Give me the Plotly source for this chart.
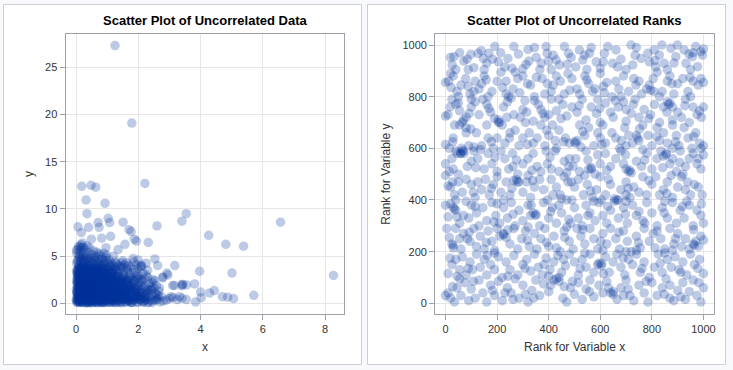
import plotly.graph_objects as go

# ---------------- data ----------------
# Left panel: scattered outliers (x, y)
data_outliers = [
    (1.25, 27.3), (1.79, 19.1), (2.21, 12.7), (0.18, 12.4), (0.48, 12.5), (0.63, 12.3),
    (0.32, 10.95), (0.93, 10.6), (0.35, 9.5), (1.03, 9.0), (1.08, 8.55), (1.51, 8.6),
    (0.71, 8.55), (3.54, 9.5), (3.40, 8.7), (2.60, 8.2), (6.57, 8.6), (4.26, 7.2),
    (4.81, 6.25), (5.38, 6.05), (5.01, 3.2), (8.27, 2.95), (5.71, 0.85), (3.97, 3.4),
    (3.17, 4.0), (0.06, 8.1), (0.40, 8.05), (0.74, 8.05), (0.17, 7.5), (0.82, 6.9),
    (1.11, 7.1), (1.70, 7.8), (1.77, 7.6), (1.87, 6.8), (1.94, 6.6), (2.32, 6.45),
    (1.57, 6.25), (1.35, 5.7), (0.49, 6.8), (0.96, 5.9), (0.01, 5.65), (2.53, 4.7),
    (2.62, 4.0), (2.92, 3.2), (2.79, 2.8), (3.81, 2.05), (4.0, 1.2), (4.44, 1.35),
    (4.29, 1.1), (4.70, 0.7), (4.87, 0.65), (5.06, 0.5), (3.84, 0.15), (4.02, 0.6),
    (3.43, 2.0), (3.16, 1.9), (2.90, 0.35), (3.11, 0.6), (3.32, 0.7), (3.54, 0.4),
    (2.57, 0.35), (2.25, 4.25), (1.99, 4.6), (1.83, 4.75), (2.09, 3.9), (2.47, 2.5),
    (2.68, 1.6), (2.41, 1.4), (2.25, 1.05),
]

# Left panel: dense cluster, by band of y
data_band_0_1 = [
    (0.02, 0.1), (0.05, 0.4), (0.08, 0.75), (0.1, 0.2), (0.12, 0.55), (0.15, 0.9), (0.18, 0.3),
    (0.2, 0.65), (0.23, 0.05), (0.26, 0.45), (0.3, 0.85), (0.33, 0.15), (0.37, 0.6), (0.4, 0.35),
    (0.44, 0.95), (0.48, 0.1), (0.52, 0.7), (0.55, 0.25), (0.6, 0.5), (0.64, 0.85), (0.68, 0.05),
    (0.72, 0.4), (0.77, 0.75), (0.82, 0.2), (0.87, 0.55), (0.92, 0.9), (0.98, 0.3), (1.04, 0.65),
    (1.1, 0.1), (1.16, 0.45), (1.23, 0.8), (1.3, 0.25), (1.38, 0.6), (1.45, 0.05), (1.53, 0.4),
    (1.62, 0.75), (1.7, 0.2), (1.8, 0.55), (1.9, 0.9), (2.0, 0.1), (2.12, 0.5), (2.25, 0.8),
    (2.4, 0.3), (2.55, 0.6), (2.7, 0.15),
    (0.03, 0.6), (0.07, 0.15), (0.11, 0.85), (0.14, 0.35), (0.19, 0.7), (0.22, 0.25), (0.28, 0.55),
    (0.32, 0.05), (0.35, 0.8), (0.42, 0.5), (0.46, 0.2), (0.5, 0.9), (0.57, 0.6), (0.62, 0.15),
    (0.66, 0.4), (0.7, 0.95), (0.75, 0.25), (0.8, 0.65), (0.85, 0.05), (0.9, 0.45), (0.95, 0.75),
    (1.0, 0.35), (1.07, 0.9), (1.13, 0.2), (1.2, 0.55), (1.27, 0.05), (1.34, 0.85), (1.42, 0.35),
    (1.5, 0.7), (1.58, 0.15), (1.66, 0.5), (1.75, 0.95), (1.85, 0.3), (1.95, 0.65), (2.05, 0.4),
    (2.18, 0.15), (2.32, 0.6), (2.48, 0.9), (2.62, 0.45), (2.8, 0.25), (3.0, 0.5), (3.05, 0.7),
    (3.25, 0.4), (3.4, 0.55),
    (0.01, 0.3), (0.04, 0.9), (0.09, 0.5), (0.13, 0.1), (0.17, 0.6), (0.21, 0.95), (0.25, 0.3),
    (0.29, 0.7), (0.34, 0.45), (0.38, 0.1), (0.43, 0.65), (0.47, 0.35), (0.53, 0.05), (0.58, 0.8),
    (0.63, 0.35), (0.69, 0.6), (0.74, 0.1), (0.79, 0.9), (0.84, 0.4), (0.89, 0.15), (0.94, 0.6),
    (1.01, 0.85), (1.08, 0.4), (1.15, 0.7), (1.22, 0.15), (1.29, 0.5), (1.36, 0.95), (1.44, 0.6),
    (1.55, 0.85), (1.65, 0.3), (1.78, 0.1), (1.88, 0.7), (2.08, 0.8), (2.22, 0.3), (2.45, 0.1),
    (2.6, 0.9), (2.75, 0.7),
]
data_band_1_2 = [
    (0.02, 1.2), (0.06, 1.6), (0.09, 1.9), (0.12, 1.35), (0.16, 1.75), (0.2, 1.1), (0.24, 1.5),
    (0.28, 1.85), (0.32, 1.25), (0.36, 1.65), (0.41, 1.05), (0.45, 1.45), (0.5, 1.8), (0.54, 1.3),
    (0.59, 1.7), (0.63, 1.15), (0.67, 1.55), (0.72, 1.95), (0.76, 1.35), (0.81, 1.75), (0.86, 1.1),
    (0.91, 1.5), (0.96, 1.9), (1.02, 1.25), (1.08, 1.65), (1.14, 1.05), (1.2, 1.45), (1.27, 1.85),
    (1.34, 1.3), (1.41, 1.7), (1.49, 1.1), (1.57, 1.5), (1.66, 1.9), (1.75, 1.2), (1.85, 1.6),
    (1.96, 1.0), (2.08, 1.4), (2.2, 1.8), (2.35, 1.2), (2.5, 1.6), (2.65, 1.3), (3.1, 1.9),
    (3.55, 1.95), (3.4, 1.85),
    (0.04, 1.0), (0.08, 1.4), (0.14, 1.8), (0.18, 1.2), (0.22, 1.65), (0.27, 1.05), (0.31, 1.5),
    (0.35, 1.95), (0.39, 1.4), (0.44, 1.8), (0.48, 1.15), (0.52, 1.6), (0.57, 1.0), (0.61, 1.45),
    (0.66, 1.85), (0.7, 1.25), (0.75, 1.7), (0.8, 1.05), (0.85, 1.55), (0.9, 1.95), (0.95, 1.3),
    (1.0, 1.75), (1.06, 1.15), (1.12, 1.6), (1.18, 1.95), (1.25, 1.35), (1.32, 1.75), (1.39, 1.15),
    (1.47, 1.6), (1.55, 1.0), (1.63, 1.4), (1.72, 1.8), (1.82, 1.3), (1.92, 1.7), (2.02, 1.2),
    (2.15, 1.6), (2.28, 1.0), (2.42, 1.45), (2.58, 1.9),
    (0.01, 1.5), (0.05, 1.85), (0.1, 1.15), (0.15, 1.55), (0.19, 1.95), (0.25, 1.3), (0.3, 1.7),
    (0.37, 1.2), (0.42, 1.6), (0.49, 1.4), (0.55, 1.9), (0.62, 1.6), (0.68, 1.05), (0.73, 1.45),
    (0.79, 1.85), (0.88, 1.35), (0.97, 1.6), (1.05, 1.95), (1.16, 1.3), (1.3, 1.55), (1.45, 1.9),
    (1.6, 1.25), (1.78, 1.5), (1.98, 1.85), (2.12, 1.1), (2.3, 1.5),
]
data_band_2_3 = [
    (0.02, 2.1), (0.06, 2.5), (0.1, 2.85), (0.13, 2.3), (0.17, 2.7), (0.21, 2.15), (0.25, 2.55),
    (0.29, 2.95), (0.34, 2.35), (0.38, 2.75), (0.43, 2.2), (0.47, 2.6), (0.52, 2.05), (0.56, 2.45),
    (0.61, 2.85), (0.65, 2.3), (0.7, 2.7), (0.75, 2.1), (0.8, 2.5), (0.85, 2.9), (0.9, 2.35),
    (0.96, 2.75), (1.02, 2.2), (1.08, 2.6), (1.15, 2.0), (1.22, 2.45), (1.3, 2.85), (1.38, 2.3),
    (1.46, 2.7), (1.55, 2.15), (1.64, 2.55), (1.74, 2.95), (1.84, 2.4), (1.95, 2.8), (2.06, 2.2),
    (2.2, 2.6), (2.36, 2.1), (2.52, 2.4), (2.78, 2.7), (2.95, 3.0), (3.4, 2.0),
    (0.04, 2.7), (0.08, 2.2), (0.12, 2.6), (0.16, 2.05), (0.2, 2.45), (0.24, 2.9), (0.28, 2.3),
    (0.33, 2.7), (0.37, 2.1), (0.42, 2.5), (0.46, 2.95), (0.51, 2.4), (0.55, 2.8), (0.6, 2.2),
    (0.64, 2.6), (0.69, 2.0), (0.74, 2.4), (0.79, 2.85), (0.84, 2.25), (0.89, 2.65), (0.95, 2.05),
    (1.01, 2.5), (1.1, 2.9), (1.18, 2.3), (1.26, 2.7), (1.35, 2.1), (1.44, 2.5), (1.52, 2.9),
    (1.62, 2.3), (1.72, 2.7), (1.82, 2.1), (1.92, 2.5), (2.02, 2.9), (2.14, 2.35), (2.3, 2.75),
    (2.45, 2.2),
    (0.01, 2.4), (0.07, 2.95), (0.14, 2.45), (0.22, 2.8), (0.31, 2.1), (0.4, 2.35), (0.49, 2.75),
    (0.58, 2.55), (0.67, 2.85), (0.77, 2.3), (0.87, 2.1), (0.99, 2.35), (1.12, 2.55), (1.24, 2.15),
    (1.4, 2.85), (1.58, 2.4), (1.8, 2.6), (2.1, 2.45),
]
data_band_3_4 = [
    (0.02, 3.2), (0.06, 3.6), (0.1, 3.95), (0.14, 3.4), (0.18, 3.8), (0.22, 3.25), (0.27, 3.65),
    (0.32, 3.1), (0.36, 3.5), (0.41, 3.9), (0.46, 3.35), (0.51, 3.75), (0.56, 3.2), (0.61, 3.6),
    (0.66, 3.05), (0.72, 3.45), (0.78, 3.85), (0.84, 3.3), (0.9, 3.7), (0.96, 3.15), (1.03, 3.55),
    (1.1, 3.95), (1.18, 3.4), (1.26, 3.8), (1.35, 3.25), (1.44, 3.65), (1.54, 3.1), (1.64, 3.5),
    (1.75, 3.9), (1.87, 3.3), (2.0, 3.7), (2.15, 3.2), (2.3, 3.5), (2.1, 3.9),
    (0.04, 3.0), (0.08, 3.4), (0.12, 3.8), (0.16, 3.15), (0.2, 3.55), (0.25, 3.95), (0.3, 3.35),
    (0.35, 3.75), (0.4, 3.2), (0.45, 3.6), (0.5, 3.0), (0.55, 3.45), (0.6, 3.85), (0.65, 3.3),
    (0.7, 3.7), (0.76, 3.1), (0.82, 3.55), (0.88, 3.95), (0.94, 3.35), (1.0, 3.8), (1.08, 3.2),
    (1.16, 3.6), (1.24, 3.05), (1.32, 3.45), (1.42, 3.9), (1.52, 3.35), (1.62, 3.75), (1.72, 3.2),
    (1.84, 3.6), (1.96, 3.1), (2.25, 3.0),
    (0.01, 3.5), (0.09, 3.1), (0.17, 3.6), (0.26, 3.3), (0.34, 3.9), (0.43, 3.45), (0.53, 3.65),
    (0.63, 3.45), (0.74, 3.25), (0.86, 3.75), (0.98, 3.5), (1.12, 3.3), (1.28, 3.55), (1.48, 3.85),
]
data_band_4_6 = [
    (0.02, 4.2), (0.06, 4.6), (0.1, 4.95), (0.14, 4.35), (0.19, 4.75), (0.24, 4.15), (0.29, 4.55),
    (0.34, 4.9), (0.39, 4.3), (0.44, 4.7), (0.5, 4.1), (0.56, 4.5), (0.62, 4.85), (0.68, 4.25),
    (0.74, 4.65), (0.8, 4.05), (0.87, 4.45), (0.94, 4.85), (1.02, 4.3), (1.1, 4.1), (1.18, 4.0),
    (1.26, 4.4), (1.35, 4.0), (1.45, 4.3), (1.55, 4.1), (1.68, 4.0), (1.85, 4.4), (1.95, 4.1),
    (2.1, 4.05),
    (0.04, 4.45), (0.08, 4.05), (0.12, 4.75), (0.17, 4.5), (0.22, 4.9), (0.27, 4.35), (0.32, 4.65),
    (0.37, 4.05), (0.42, 4.45), (0.47, 4.85), (0.53, 4.3), (0.59, 4.6), (0.65, 4.0), (0.71, 4.4),
    (0.77, 4.2), (0.84, 4.7), (0.91, 4.2), (0.98, 4.5), (1.06, 4.6), (1.14, 4.25), (1.3, 4.2),
    (1.5, 4.5), (1.62, 4.3),
    (0.02, 5.3), (0.06, 5.7), (0.1, 5.15), (0.14, 5.5), (0.18, 5.9), (0.22, 5.3), (0.27, 5.65),
    (0.32, 5.1), (0.38, 5.45), (0.44, 5.85), (0.5, 5.2), (0.56, 5.55), (0.62, 5.05), (0.68, 5.4),
    (0.74, 5.25), (0.8, 5.05), (0.9, 5.3), (0.98, 5.1), (0.08, 6.05), (0.16, 6.2), (0.25, 5.95),
    (0.35, 6.1), (0.12, 5.95), (0.2, 6.4), (1.2, 5.0),
]
data_core = [
    (0.05, 0.25), (0.1, 0.7), (0.15, 0.15), (0.2, 0.45), (0.25, 0.8), (0.3, 0.3), (0.35, 0.6),
    (0.4, 0.05), (0.45, 0.5), (0.5, 0.35), (0.55, 0.75), (0.6, 0.2), (0.65, 0.6), (0.7, 0.3),
    (0.75, 0.85), (0.8, 0.45), (0.85, 0.15), (0.9, 0.7), (0.95, 0.4), (1.0, 0.1), (1.05, 0.5),
    (1.1, 0.8), (1.2, 0.3), (1.3, 0.7), (1.4, 0.15), (1.5, 0.5), (1.6, 0.9), (1.7, 0.35),
    (1.8, 0.05), (1.9, 0.45), (2.0, 0.7), (2.1, 0.25), (2.2, 0.55), (2.3, 0.05), (2.5, 0.35),
    (2.65, 0.75), (0.03, 1.3), (0.08, 1.7), (0.13, 1.05), (0.18, 1.45), (0.23, 1.85), (0.28, 1.2),
    (0.33, 1.6), (0.38, 1.0), (0.43, 1.35), (0.48, 1.75), (0.53, 1.1), (0.58, 1.5), (0.63, 1.9),
    (0.68, 1.3), (0.73, 1.65), (0.78, 1.0), (0.83, 1.4), (0.88, 1.8), (0.93, 1.2), (0.99, 1.55),
    (1.04, 1.05), (1.1, 1.4), (1.2, 1.8), (1.28, 1.1), (1.36, 1.5), (1.44, 1.25), (1.52, 1.8),
    (1.6, 1.05), (1.7, 1.45), (1.8, 1.85), (1.9, 1.15), (2.0, 1.55), (2.1, 1.9), (2.25, 1.3),
    (2.4, 1.75), (2.55, 1.05), (0.05, 2.3), (0.11, 2.7), (0.16, 2.25), (0.21, 2.6), (0.26, 2.05),
    (0.31, 2.5), (0.36, 2.9), (0.41, 2.3), (0.46, 2.7), (0.51, 2.15), (0.56, 2.6), (0.61, 2.0),
    (0.66, 2.45), (0.71, 2.85), (0.76, 2.25), (0.82, 2.65), (0.88, 2.05), (0.94, 2.45), (1.0, 2.85),
    (1.07, 2.3), (1.14, 2.7), (1.22, 2.1), (1.3, 2.5), (1.4, 2.2), (1.5, 2.6), (1.6, 2.05),
    (1.7, 2.45), (1.85, 2.25), (2.0, 2.6), (0.05, 3.3), (0.1, 3.7), (0.15, 3.2), (0.2, 3.6),
    (0.3, 3.15), (0.38, 3.6), (0.48, 3.25), (0.58, 3.7), (0.68, 3.2), (0.8, 3.6), (0.92, 3.15),
    (1.05, 3.6), (1.2, 3.25),
]
data_core_dense = [
    (0.06, 0.12), (0.16, 0.12), (0.27, 0.12), (0.36, 0.12), (0.47, 0.12), (0.58, 0.12), (0.67, 0.12),
    (0.78, 0.12), (0.88, 0.12), (0.97, 0.12), (1.08, 0.12), (1.19, 0.12), (1.33, 0.12), (1.47, 0.12),
    (1.61, 0.12), (1.76, 0.12), (1.93, 0.12), (2.15, 0.12), (2.35, 0.12),
    (0.01, 0.42), (0.12, 0.42), (0.22, 0.42), (0.31, 0.42), (0.41, 0.42), (0.53, 0.42), (0.62, 0.42),
    (0.73, 0.42), (0.83, 0.42), (0.93, 0.42), (1.03, 0.42), (1.14, 0.42), (1.26, 0.42), (1.4, 0.42),
    (1.55, 0.42), (1.69, 0.42), (1.86, 0.42), (2.02, 0.42), (2.26, 0.42),
    (0.07, 0.72), (0.17, 0.72), (0.26, 0.72), (0.37, 0.72), (0.46, 0.72), (0.57, 0.72), (0.67, 0.72),
    (0.77, 0.72), (0.87, 0.72), (0.97, 0.72), (1.09, 0.72), (1.21, 0.72), (1.35, 0.72), (1.5, 0.72),
    (1.64, 0.72), (1.82, 0.72), (2.0, 0.72), (2.2, 0.72),
    (0.03, 1.05), (0.13, 1.05), (0.23, 1.05), (0.33, 1.05), (0.43, 1.05), (0.53, 1.05), (0.63, 1.05),
    (0.74, 1.05), (0.84, 1.05), (0.94, 1.05), (1.05, 1.05), (1.17, 1.05), (1.31, 1.05), (1.46, 1.05),
    (1.62, 1.05), (1.8, 1.05), (2.05, 1.05),
    (0.08, 1.35), (0.18, 1.35), (0.28, 1.35), (0.38, 1.35), (0.48, 1.35), (0.58, 1.35), (0.68, 1.35),
    (0.78, 1.35), (0.89, 1.35), (1.0, 1.35), (1.12, 1.35), (1.25, 1.35), (1.4, 1.35), (1.56, 1.35),
    (1.73, 1.35), (1.94, 1.35),
    (0.04, 1.65), (0.14, 1.65), (0.24, 1.65), (0.34, 1.65), (0.44, 1.65), (0.55, 1.65), (0.65, 1.65),
    (0.75, 1.65), (0.86, 1.65), (0.97, 1.65), (1.09, 1.65), (1.23, 1.65), (1.38, 1.65), (1.54, 1.65),
    (1.72, 1.65), (1.9, 1.65),
    (0.09, 1.95), (0.19, 1.95), (0.29, 1.95), (0.39, 1.95), (0.5, 1.95), (0.6, 1.95), (0.71, 1.95),
    (0.82, 1.95), (0.93, 1.95), (1.05, 1.95), (1.18, 1.95), (1.33, 1.95), (1.5, 1.95), (1.68, 1.95),
    (0.05, 2.25), (0.15, 2.25), (0.25, 2.25), (0.35, 2.25), (0.46, 2.25), (0.56, 2.25), (0.67, 2.25),
    (0.78, 2.25), (0.9, 2.25), (1.02, 2.25), (1.16, 2.25), (1.31, 2.25), (1.48, 2.25), (1.66, 2.25),
    (0.1, 2.55), (0.2, 2.55), (0.3, 2.55), (0.41, 2.55), (0.52, 2.55), (0.63, 2.55), (0.74, 2.55),
    (0.86, 2.55), (0.99, 2.55), (1.13, 2.55), (1.28, 2.55), (1.45, 2.55),
    (0.05, 2.85), (0.15, 2.85), (0.26, 2.85), (0.37, 2.85), (0.48, 2.85), (0.6, 2.85), (0.72, 2.85),
    (0.85, 2.85), (0.99, 2.85), (1.15, 2.85), (1.32, 2.85),
    (0.1, 3.15), (0.21, 3.15), (0.32, 3.15), (0.44, 3.15), (0.57, 3.15), (0.7, 3.15), (0.84, 3.15),
    (1.0, 3.15), (1.18, 3.15),
    (0.05, 3.45), (0.16, 3.45), (0.28, 3.45), (0.41, 3.45), (0.55, 3.45), (0.7, 3.45), (0.88, 3.45),
    (0.1, 3.75), (0.22, 3.75), (0.36, 3.75), (0.52, 3.75), (0.7, 3.75),
]

# Right panel: ranks (rank x, rank y), by band of rank y
rank_900_1000 = [
    (19, 952), (26, 923), (71, 938), (84, 945), (98, 964), (126, 968), (139, 978), (168, 968),
    (182, 945), (191, 994), (214, 970), (242, 948), (265, 994), (283, 965), (320, 983), (323, 938),
    (352, 952), (371, 929), (390, 994), (394, 968), (399, 938), (429, 942), (442, 923), (461, 994),
    (477, 968), (487, 952), (519, 981), (539, 961), (532, 942), (558, 968), (584, 935), (616, 968),
    (629, 994), (648, 929), (661, 981), (680, 945), (719, 1000), (726, 923), (758, 948), (784, 968),
    (790, 935), (809, 981), (829, 961), (839, 1000), (848, 929), (874, 987), (893, 955), (899, 1000),
    (925, 981), (932, 929), (957, 955), (970, 994), (990, 974), (996, 961), (977, 916), (40, 905),
    (110, 912), (150, 905), (230, 915), (300, 908), (345, 990), (410, 905), (505, 915), (565, 990),
    (600, 910), (700, 905), (740, 990), (815, 915), (860, 905), (950, 905), (1000, 985), (55, 970),
    (160, 930),
]
rank_800_900 = [
    (0, 855), (12, 860), (30, 880), (45, 820), (50, 800), (60, 845), (78, 870), (95, 810),
    (100, 790), (115, 860), (130, 830), (140, 850), (150, 880), (165, 800), (180, 820), (200, 860),
    (215, 895), (235, 810), (245, 800), (262, 830), (280, 870), (300, 880), (318, 850), (330, 845),
    (345, 800), (375, 870), (395, 850), (410, 820), (430, 880), (445, 860), (460, 810), (490, 870),
    (510, 830), (520, 810), (540, 880), (555, 850), (570, 820), (580, 830), (600, 890), (625, 855),
    (645, 800), (660, 860), (690, 880), (710, 820), (730, 870), (760, 810), (780, 830), (790, 845),
    (805, 870), (820, 895), (840, 820), (860, 860), (870, 880), (885, 810), (900, 850), (920, 870),
    (940, 820), (960, 860), (980, 845), (1000, 855), (990, 870), (20, 890), (270, 895), (385, 810),
    (475, 890), (615, 815), (680, 800), (750, 860), (830, 800), (950, 800), (110, 820), (235, 860),
]
rank_700_800 = [
    (0, 725), (10, 730), (25, 790), (40, 770), (55, 745), (65, 700), (80, 720), (100, 760),
    (115, 780), (130, 730), (145, 790), (160, 770), (175, 740), (190, 715), (205, 710), (210, 700),
    (225, 760), (240, 780), (255, 795), (290, 720), (300, 750), (315, 740), (340, 705), (360, 770),
    (370, 750), (385, 720), (400, 730), (410, 790), (430, 745), (455, 770), (470, 725), (490, 760),
    (510, 740), (530, 790), (545, 710), (565, 760), (585, 735), (600, 700), (620, 775), (650, 720),
    (670, 760), (690, 780), (700, 750), (720, 735), (735, 790), (750, 720), (770, 750), (795, 730),
    (810, 770), (830, 700), (845, 760), (860, 780), (870, 775), (880, 760), (900, 740), (915, 720),
    (930, 790), (945, 700), (960, 760), (975, 730), (985, 745), (1000, 760), (70, 710), (265, 730),
    (440, 790), (590, 790), (640, 740), (700, 705), (880, 710), (50, 775), (345, 785),
]
rank_600_700 = [
    (0, 615), (15, 600), (30, 640), (45, 580), (55, 690), (62, 600), (70, 590), (80, 660),
    (90, 610), (110, 605), (120, 660), (140, 610), (165, 640), (185, 600), (200, 640), (220, 690),
    (230, 620), (250, 660), (270, 670), (285, 610), (300, 640), (310, 700), (325, 660), (340, 620),
    (355, 640), (370, 690), (385, 610), (400, 650), (415, 690), (425, 630), (440, 670), (465, 640),
    (480, 620), (500, 625), (510, 630), (520, 690), (540, 650), (555, 680), (575, 610), (590, 660),
    (610, 690), (620, 620), (645, 660), (660, 640), (675, 600), (695, 680), (710, 650), (725, 620),
    (745, 640), (750, 630), (765, 690), (785, 650), (800, 610), (820, 680), (830, 630), (845, 660),
    (860, 620), (880, 690), (895, 650), (905, 610), (925, 680), (940, 640), (955, 600), (970, 660),
    (985, 620), (1000, 610), (990, 600), (160, 690), (430, 600), (600, 640), (700, 610), (880, 600),
    (35, 690), (525, 605),
]
rank_500_600 = [
    (0, 540), (15, 510), (25, 560), (40, 590), (58, 580), (65, 590), (72, 580), (85, 530),
    (100, 550), (110, 590), (125, 560), (150, 520), (165, 580), (180, 540), (200, 510), (215, 590),
    (230, 560), (245, 520), (260, 580), (280, 500), (300, 540), (320, 560), (340, 580), (355, 530),
    (370, 510), (395, 540), (410, 520), (425, 590), (440, 510), (460, 550), (480, 560), (495, 530),
    (505, 560), (520, 510), (545, 590), (555, 520), (565, 520), (580, 500), (600, 540), (620, 580),
    (640, 530), (660, 560), (680, 590), (700, 520), (715, 515), (720, 505), (740, 550), (760, 530),
    (780, 580), (800, 520), (820, 560), (835, 590), (845, 570), (855, 575), (870, 540), (880, 560),
    (895, 510), (910, 590), (930, 530), (945, 560), (960, 580), (975, 540), (990, 520), (1000, 575),
    (50, 500), (135, 595), (275, 555), (390, 590), (470, 505), (590, 575), (690, 540), (765, 595),
    (920, 500),
]
rank_400_500 = [
    (0, 495), (10, 455), (20, 450), (35, 420), (50, 470), (65, 430), (80, 480), (100, 460),
    (115, 410), (125, 470), (140, 440), (155, 480), (170, 420), (185, 460), (200, 490), (215, 430),
    (235, 470), (250, 420), (265, 475), (275, 478), (285, 470), (300, 430), (315, 470), (330, 410),
    (345, 450), (365, 480), (380, 440), (395, 400), (410, 480), (430, 450), (445, 420), (460, 490),
    (475, 470), (490, 400), (500, 450), (515, 480), (535, 420), (550, 460), (570, 410), (585, 440),
    (600, 490), (620, 420), (640, 460), (655, 405), (665, 400), (680, 440), (700, 470), (715, 410),
    (730, 450), (750, 430), (765, 490), (780, 420), (800, 460), (815, 490), (830, 420), (845, 440),
    (860, 470), (880, 410), (900, 450), (915, 490), (930, 440), (950, 420), (965, 460), (980, 450),
    (995, 420), (225, 400), (320, 495), (450, 405), (540, 495), (700, 420), (875, 495), (40, 400),
    (605, 400),
]
rank_300_400 = [
    (0, 380), (20, 385), (30, 370), (40, 360), (55, 310), (70, 340), (90, 330), (100, 380),
    (120, 350), (130, 300), (145, 370), (160, 320), (180, 390), (195, 340), (210, 310), (225, 370),
    (240, 330), (255, 390), (270, 300), (285, 360), (300, 320), (320, 380), (330, 340), (340, 350),
    (350, 340), (365, 300), (380, 390), (400, 330), (415, 370), (430, 310), (450, 350), (470, 400),
    (485, 310), (500, 370), (515, 330), (530, 300), (545, 380), (560, 350), (580, 320), (595, 390),
    (610, 340), (625, 310), (640, 360), (655, 395), (670, 330), (690, 370), (705, 310), (725, 380),
    (740, 340), (750, 355), (765, 320), (780, 390), (800, 350), (820, 300), (840, 370), (860, 330),
    (880, 390), (895, 310), (910, 360), (925, 330), (945, 380), (960, 300), (975, 360), (990, 340),
    (1000, 310), (80, 395), (200, 385), (440, 380), (575, 395), (700, 395), (850, 395), (935, 395),
    (10, 335),
]
rank_200_300 = [
    (5, 290), (25, 230), (30, 215), (40, 290), (55, 250), (70, 270), (85, 250), (95, 240),
    (110, 290), (120, 220), (135, 260), (150, 210), (165, 280), (180, 240), (200, 290), (210, 260),
    (225, 265), (235, 255), (250, 230), (265, 290), (280, 210), (295, 250), (310, 280), (325, 220),
    (345, 270), (355, 210), (370, 250), (385, 290), (400, 220), (420, 260), (430, 215), (445, 200),
    (460, 280), (480, 240), (495, 210), (510, 290), (525, 260), (540, 230), (560, 290), (575, 250),
    (590, 210), (610, 270), (625, 230), (640, 290), (660, 250), (675, 210), (690, 280), (705, 240),
    (720, 200), (740, 260), (755, 215), (770, 290), (790, 240), (805, 270), (820, 280), (835, 250),
    (850, 210), (870, 290), (885, 230), (900, 270), (915, 220), (930, 250), (945, 210), (960, 230),
    (970, 240), (980, 220), (990, 260), (1000, 245), (60, 210), (190, 205), (320, 295), (470, 295),
    (610, 205), (740, 205), (880, 205),
]
rank_100_200 = [
    (10, 115), (25, 150), (40, 170), (55, 130), (65, 180), (80, 110), (95, 160), (105, 130),
    (120, 190), (135, 140), (150, 170), (160, 110), (175, 150), (190, 130), (205, 180), (220, 100),
    (235, 160), (250, 130), (265, 185), (280, 110), (300, 150), (315, 170), (330, 125), (345, 190),
    (360, 140), (375, 110), (390, 175), (405, 130), (420, 160), (435, 185), (450, 120), (465, 145),
    (480, 190), (500, 160), (515, 110), (530, 170), (545, 140), (560, 190), (575, 120), (590, 150),
    (595, 155), (605, 145), (620, 180), (635, 120), (650, 160), (665, 190), (680, 140), (695, 110),
    (710, 170), (725, 150), (740, 190), (755, 120), (770, 160), (790, 100), (810, 140), (825, 190),
    (840, 120), (860, 170), (875, 140), (890, 180), (905, 130), (920, 160), (935, 110), (950, 190),
    (965, 150), (985, 170), (1000, 115), (45, 105), (190, 195), (400, 105), (540, 195), (700, 200),
    (850, 195),
]
rank_0_100 = [
    (0, 30), (10, 40), (20, 20), (35, 5), (45, 60), (60, 30), (75, 80), (90, 10),
    (100, 55), (115, 20), (130, 90), (145, 40), (160, 5), (175, 70), (190, 30), (205, 85),
    (220, 10), (240, 60), (255, 40), (270, 95), (285, 20), (300, 70), (320, 5), (335, 50),
    (350, 90), (365, 30), (380, 75), (400, 45), (420, 90), (430, 95), (440, 85), (455, 20),
    (470, 5), (485, 60), (500, 35), (515, 80), (530, 15), (545, 55), (560, 90), (575, 25),
    (595, 70), (610, 40), (625, 85), (640, 40), (650, 45), (665, 15), (680, 60), (700, 90),
    (715, 30), (730, 10), (750, 70), (770, 40), (785, 5), (800, 80), (820, 30), (840, 60),
    (855, 95), (870, 20), (885, 10), (900, 50), (920, 80), (930, 15), (945, 45), (960, 90),
    (975, 30), (990, 5), (1000, 60), (55, 95), (230, 40), (460, 65), (690, 30), (870, 70),
    (310, 35),
]
# darker clumps and extra scattered ranks seen in the picture
rank_clumps = [
    (60, 580), (205, 700), (280, 470), (605, 155), (440, 100), (670, 400), (710, 510), (795, 825),
    (865, 770), (855, 580), (965, 225), (350, 345), (35, 365), (30, 225), (565, 525), (505, 620),
    (225, 270), (650, 35), (80, 680), (960, 970), (740, 650),
]
rank_extra = [
    (33, 955), (88, 905), (147, 948), (205, 935), (258, 910), (312, 925), (366, 905), (418, 960),
    (472, 925), (548, 905), (612, 935), (668, 915), (735, 960), (812, 940), (886, 930), (944, 965),
    (22, 835), (88, 840), (158, 865), (222, 835), (288, 815), (352, 875), (418, 845), (482, 825),
    (548, 865), (612, 840), (672, 830), (738, 845), (808, 820), (878, 850), (948, 875),
    (18, 760), (92, 735), (168, 755), (238, 720), (308, 785), (378, 735), (448, 715), (518, 765),
    (598, 755), (658, 785), (728, 770), (788, 715), (858, 740), (928, 765), (992, 720),
    (28, 625), (98, 675), (178, 625), (248, 640), (318, 615), (392, 670), (458, 625), (532, 665),
    (606, 615), (682, 630), (752, 675), (818, 645), (892, 625), (962, 645),
    (30, 520), (118, 525), (192, 565), (262, 530), (335, 515), (405, 565), (478, 530), (552, 555),
    (625, 515), (698, 575), (772, 555), (842, 525), (908, 545), (980, 560),
    (28, 470), (108, 430), (178, 445), (258, 445), (338, 475), (418, 420), (488, 470), (562, 435),
    (632, 480), (708, 445), (788, 475), (858, 425), (938, 470),
    (45, 335), (115, 375), (188, 315), (262, 345), (332, 380), (408, 355), (478, 325), (552, 340),
    (628, 375), (698, 345), (772, 310), (848, 350), (918, 375), (992, 385),
    (15, 255), (92, 275), (158, 235), (242, 285), (318, 245), (392, 235), (462, 255), (532, 285),
    (602, 240), (672, 275), (748, 235), (812, 215), (892, 250), (962, 285),
    (18, 175), (88, 135), (162, 185), (242, 105), (308, 135), (382, 150), (458, 170), (522, 135),
    (612, 115), (688, 175), (762, 135), (832, 155), (912, 120), (978, 135),
    (28, 65), (108, 85), (182, 50), (262, 15), (342, 20), (408, 70), (492, 85), (558, 45),
    (632, 60), (708, 55), (778, 85), (848, 35), (912, 25), (982, 80),
]

left_ticks = [0, 2, 4, 6, 8]
left_yticks = [0, 5, 10, 15, 20, 25]
right_ticks = [0, 200, 400, 600, 800, 1000]

titles = ["Scatter Plot of Uncorrelated Data", "Scatter Plot of Uncorrelated Ranks"]
axis_titles = ["x", "y", "Rank for Variable x", "Rank for Variable y"]

# ---------------- build ----------------
data_pts = (data_band_0_1 + data_band_1_2 + data_band_2_3 + data_band_3_4
            + data_band_4_6 + data_core + data_core_dense + data_outliers)
rank_pts = (rank_0_100 + rank_100_200 + rank_200_300 + rank_300_400 + rank_400_500
            + rank_500_600 + rank_600_700 + rank_700_800 + rank_800_900 + rank_900_1000
            + rank_clumps + rank_extra)

data_x = [p[0] for p in data_pts]
data_y = [p[1] for p in data_pts]
rank_x = [p[0] for p in rank_pts]
rank_y = [p[1] for p in rank_pts]

W, H = 733, 370
FONT = "Liberation Sans, Arial, sans-serif"
MARK = dict(size=9.5, color="rgba(0,51,153,0.26)", line=dict(width=0))

fig = go.Figure()
fig.add_trace(go.Scatter(x=data_x, y=data_y, mode="markers", marker=MARK,
                         xaxis="x", yaxis="y", hoverinfo="skip"))
fig.add_trace(go.Scatter(x=rank_x, y=rank_y, mode="markers", marker=MARK,
                         xaxis="x2", yaxis="y2", hoverinfo="skip"))

def px_x(v):
    return v / W

def px_y(v):
    return 1 - v / H

axis_common = dict(showline=True, mirror=True, linecolor="#9ea2a8", linewidth=1,
                   showgrid=True, gridcolor="#e6e6e6", gridwidth=1, zeroline=False,
                   ticks="outside", ticklen=5, tickcolor="#9ea2a8",
                   tickfont=dict(family=FONT, size=11, color="#333333"))

ydom = [px_y(314), px_y(34)]
fig.update_layout(
    width=W, height=H, margin=dict(l=0, r=0, t=0, b=0),
    paper_bgcolor="#f8f9fc", plot_bgcolor="white", showlegend=False,
    xaxis=dict(domain=[px_x(65.7), px_x(345.3)], range=[-0.34, 8.62],
               tickvals=left_ticks, anchor="y", **axis_common),
    yaxis=dict(domain=ydom, range=[-1.13, 28.53], tickvals=left_yticks,
               anchor="x", **axis_common),
    xaxis2=dict(domain=[px_x(436.3), px_x(716)], range=[-40.2, 1041],
                tickvals=right_ticks, anchor="y2", **axis_common),
    yaxis2=dict(domain=ydom, range=[-41.4, 1042.6], tickvals=right_ticks,
                anchor="x2", **axis_common),
)

# panel frames
for x0, x1 in [(3.5, 362.5), (368.5, 727.5)]:
    fig.add_shape(type="rect", xref="paper", yref="paper",
                  x0=px_x(x0), x1=px_x(x1), y0=px_y(364.5), y1=px_y(4.5),
                  line=dict(color="#cfcfcf", width=1), fillcolor="white", layer="below")

ann = []
for t, cx in zip(titles, [205.5, 576.2]):
    ann.append(dict(text="<b>%s</b>" % t, x=px_x(cx), y=px_y(21), xref="paper", yref="paper",
                    showarrow=False, xanchor="center", yanchor="middle",
                    font=dict(family=FONT, size=13, color="#000000")))
ann.append(dict(text=axis_titles[0], x=px_x(205.5), y=px_y(347), xref="paper", yref="paper",
                showarrow=False, xanchor="center", yanchor="middle",
                font=dict(family=FONT, size=12, color="#333333")))
ann.append(dict(text=axis_titles[1], x=px_x(29), y=px_y(174), xref="paper", yref="paper",
                showarrow=False, xanchor="center", yanchor="middle", textangle=-90,
                font=dict(family=FONT, size=12, color="#333333")))
ann.append(dict(text=axis_titles[2], x=px_x(576.2), y=px_y(347), xref="paper", yref="paper",
                showarrow=False, xanchor="center", yanchor="middle",
                font=dict(family=FONT, size=12, color="#333333")))
ann.append(dict(text=axis_titles[3], x=px_x(386.7), y=px_y(174), xref="paper", yref="paper",
                showarrow=False, xanchor="center", yanchor="middle", textangle=-90,
                font=dict(family=FONT, size=12, color="#333333")))
fig.update_layout(annotations=ann)

fig.write_html("out.html", config={"displayModeBar": False})

# remove the browser's default page margin so the figure sits at (0, 0)
with open("out.html", "r", encoding="utf-8") as f:
    html = f.read()
html = html.replace("<head>", "<head><style>html,body{margin:0;padding:0;overflow:hidden;}</style>", 1)
with open("out.html", "w", encoding="utf-8") as f:
    f.write(html)
